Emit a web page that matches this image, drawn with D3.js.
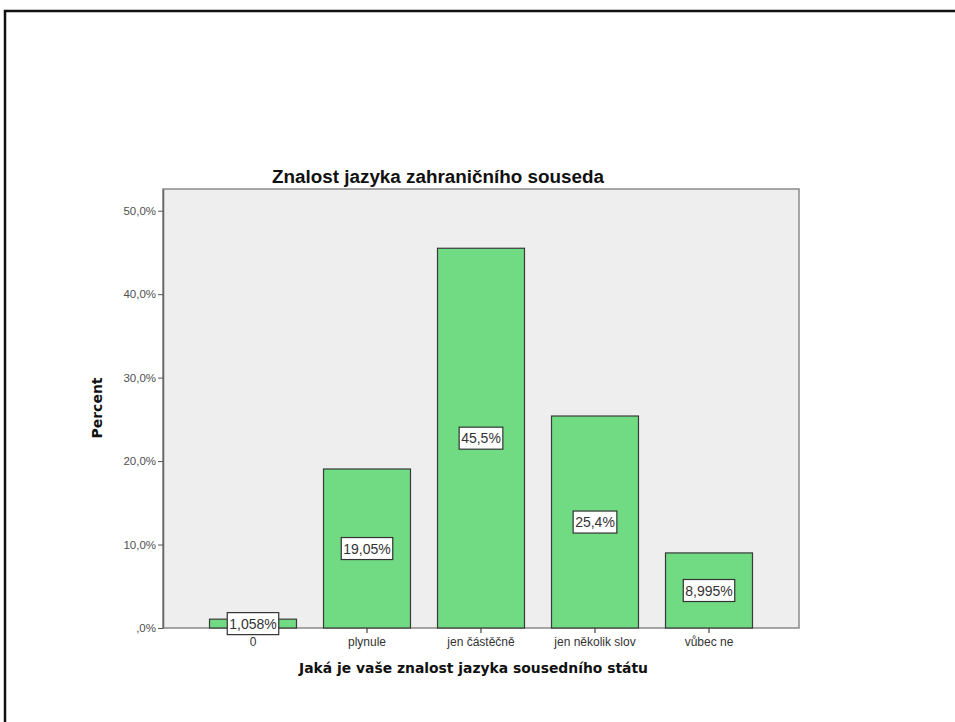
<!DOCTYPE html>
<html>
<head>
<meta charset="utf-8">
<script src="https://cdn.jsdelivr.net/npm/d3@7"></script>
<style>
  html, body { margin: 0; padding: 0; background: #fff; overflow: hidden; }
  svg { display: block; }
</style>
</head>
<body>
<svg id="chart" width="955" height="722"></svg>
<script>
// Answer categories and their percentages
const categories = ["0", "plynule", "jen částěčně", "jen několik slov", "vůbec ne"];
const percents = [1.058, 19.05, 45.5, 25.4, 8.995];
const valueLabels = ["1,058%", "19,05%", "45,5%", "25,4%", "8,995%"];
const yTicks = [0, 10, 20, 30, 40, 50];
const yTickLabels = [",0%", "10,0%", "20,0%", "30,0%", "40,0%", "50,0%"];

const svg = d3.select("#chart");

// outer page frame: top and left edges (the rest lies beyond the page)
svg.append("path")
  .attr("d", "M5,730V11H960")
  .attr("fill", "none").attr("stroke", "#111").attr("stroke-width", 2.5);

const plot = { left: 163, right: 799, top: 189, bottom: 628 };

const x = d3.scaleBand()
  .domain(categories)
  .range([plot.left, plot.right])
  .paddingInner(0.237)
  .paddingOuter(0.408);

const y = d3.scaleLinear()
  .domain([0, 52.6])
  .range([plot.bottom, plot.top]);

// plot background
svg.append("rect")
  .attr("x", plot.left).attr("y", plot.top)
  .attr("width", plot.right - plot.left).attr("height", plot.bottom - plot.top)
  .attr("fill", "#eeeeee").attr("stroke", "#8a8a8a").attr("stroke-width", 1.5);

// bars
svg.append("g").selectAll("rect")
  .data(percents)
  .join("rect")
  .attr("x", (d, i) => x(categories[i]))
  .attr("y", d => y(d))
  .attr("width", x.bandwidth())
  .attr("height", d => y(0) - y(d))
  .attr("fill", "#70db82")
  .attr("stroke", "#3a3a3a")
  .attr("stroke-width", 1.2);

// y axis
const yAxis = d3.axisLeft(y)
  .tickValues(yTicks)
  .tickFormat((d, i) => yTickLabels[i])
  .tickSizeInner(5)
  .tickSizeOuter(0)
  .tickPadding(2);
const gy = svg.append("g").attr("transform", `translate(${plot.left},0)`).call(yAxis);
gy.select(".domain").attr("stroke", "#666").attr("stroke-width", 1.5);
gy.selectAll(".tick line").attr("stroke", "#555");
gy.selectAll(".tick text")
  .attr("font-family", "Liberation Sans, Arial, sans-serif")
  .attr("font-size", 11.5).attr("fill", "#505050");

// x axis
const xAxis = d3.axisBottom(x).tickSize(5).tickPadding(4);
const gx = svg.append("g").attr("transform", `translate(0,${plot.bottom})`).call(xAxis);
gx.select(".domain").remove();
gx.selectAll(".tick line").attr("stroke", "#444").attr("stroke-width", 1.2);
gx.selectAll(".tick text")
  .attr("font-family", "Liberation Sans, Arial, sans-serif")
  .attr("font-size", 12).attr("fill", "#333");

// value labels in boxes at bar midpoints
const lbl = svg.append("g").selectAll("g")
  .data(percents)
  .join("g")
  .attr("transform", (d, i) => `translate(${x(categories[i]) + x.bandwidth() / 2},${(y(d) + y(0)) / 2})`);
lbl.append("text")
  .text((d, i) => valueLabels[i])
  .attr("text-anchor", "middle")
  .attr("dy", "0.36em")
  .attr("font-family", "Liberation Sans, Arial, sans-serif")
  .attr("font-size", 14)
  .attr("fill", "#333");
lbl.each(function () {
  const g = d3.select(this);
  const b = g.select("text").node().getBBox();
  g.insert("rect", "text")
    .attr("x", b.x - 2).attr("y", b.y - 3)
    .attr("width", b.width + 4).attr("height", b.height + 6)
    .attr("fill", "#fff").attr("stroke", "#333").attr("stroke-width", 1.2);
});

// titles
svg.append("text")
  .attr("x", 272).attr("y", 183)
  .attr("textLength", 332).attr("lengthAdjust", "spacingAndGlyphs")
  .attr("font-family", "Liberation Sans, Arial, sans-serif")
  .attr("font-weight", "bold").attr("font-size", 17.5)
  .attr("fill", "#111")
  .text("Znalost jazyka zahraničního souseda");

svg.append("text")
  .attr("x", 299).attr("y", 673)
  .attr("textLength", 349).attr("lengthAdjust", "spacingAndGlyphs")
  .attr("font-family", "DejaVu Sans, Verdana, sans-serif")
  .attr("font-weight", "bold").attr("font-size", 14)
  .attr("fill", "#111")
  .text("Jaká je vaše znalost jazyka sousedního státu");

svg.append("text")
  .attr("transform", "translate(102,408) rotate(-90)")
  .attr("text-anchor", "middle")
  .attr("font-family", "DejaVu Sans, Verdana, sans-serif")
  .attr("font-weight", "bold").attr("font-size", 14)
  .attr("fill", "#111")
  .text("Percent");
</script>
</body>
</html>
